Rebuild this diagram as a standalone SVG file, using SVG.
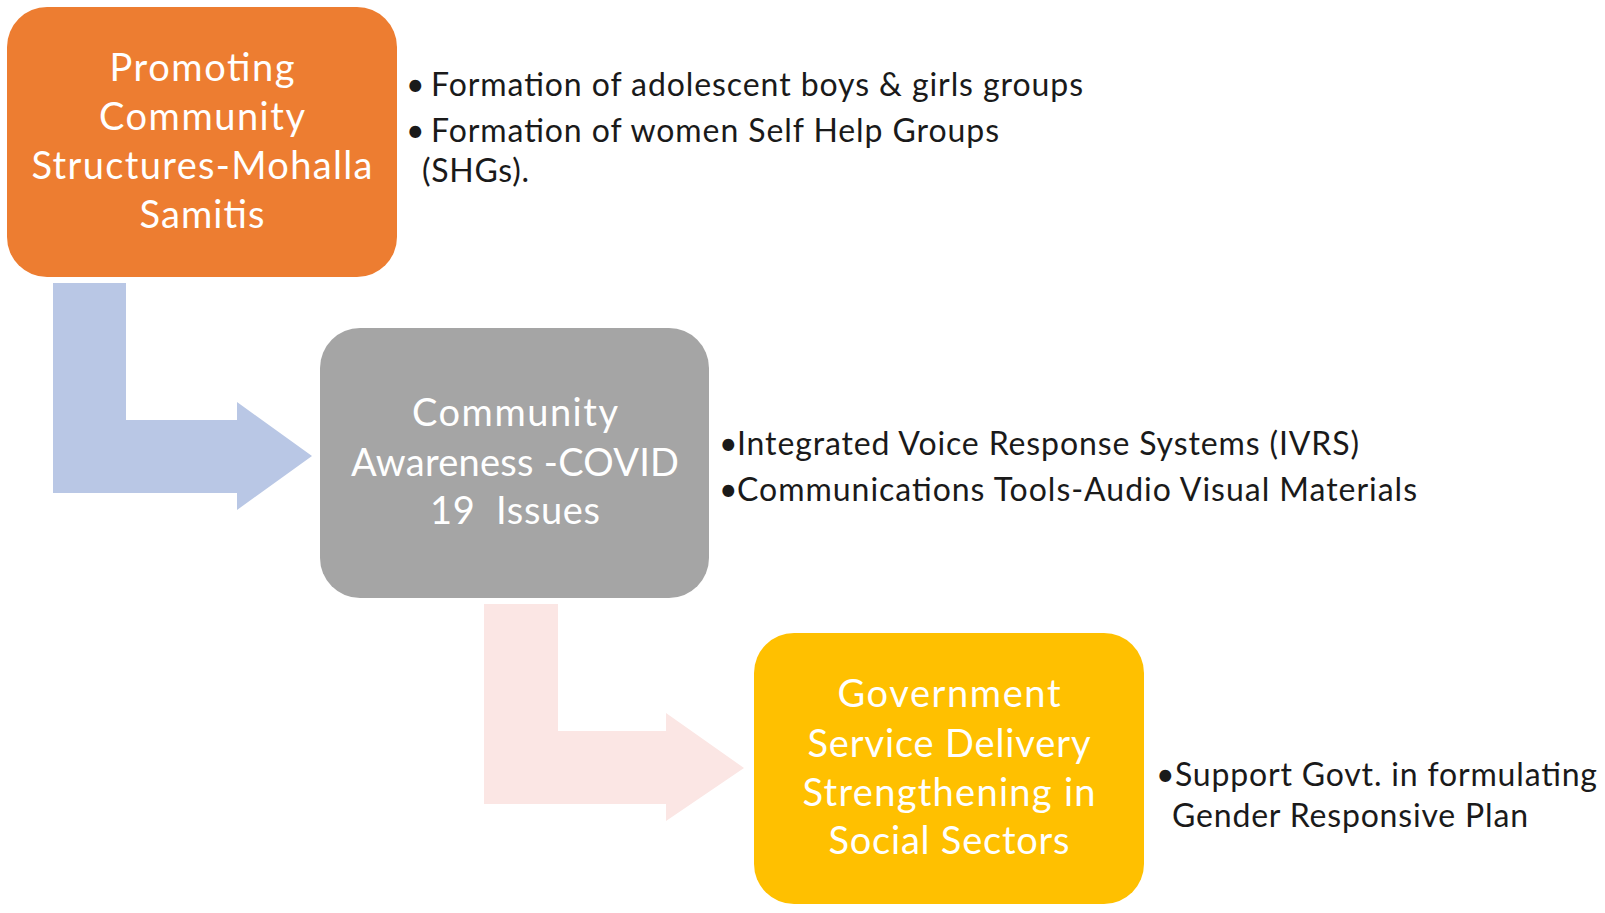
<svg xmlns="http://www.w3.org/2000/svg" width="1605" height="913" viewBox="0 0 1605 913">
<style>
.node-text{font-family:"Lato","Liberation Sans",sans-serif;font-size:38px;fill:#ffffff;text-anchor:middle}
.note{font-family:"Lato","Liberation Sans",sans-serif;font-size:32px;fill:#1a1a1a}
</style>
<rect width="1605" height="913" fill="#ffffff"/>
<g id="connectors">
<path d="M53,283 H126 V420 H237 V402 L312,456 L237,510 V493 H53 Z" fill="#B9C7E5"/>
<path d="M484,604 H558 V731 H666 V713 L744,768 L666,821 V804 H484 Z" fill="#FBE6E4"/>
</g>
<g id="node-promoting">
<rect x="7" y="7" width="390" height="270" rx="40" fill="#ED7D31"/>
<text class="node-text" x="202" y="81" textLength="185">Promoting</text>
<text class="node-text" x="202" y="130" textLength="206">Community</text>
<text class="node-text" x="202" y="179" textLength="341">Structures-Mohalla</text>
<text class="node-text" x="202" y="228" textLength="125">Samitis</text>
</g>
<g id="node-awareness">
<rect x="320" y="328" width="389" height="270" rx="40" fill="#A5A5A5"/>
<text class="node-text" x="515" y="426" textLength="206">Community</text>
<text class="node-text" x="515" y="476" textLength="328">Awareness -COVID</text>
<text class="node-text" x="515" y="524" textLength="170" xml:space="preserve">19  Issues</text>
</g>
<g id="node-government">
<rect x="754" y="633" width="390" height="271" rx="40" fill="#FFC000"/>
<text class="node-text" x="949" y="707" textLength="223">Government</text>
<text class="node-text" x="949" y="757" textLength="283">Service Delivery</text>
<text class="node-text" x="949" y="806" textLength="293">Strengthening in</text>
<text class="node-text" x="949" y="854" textLength="241">Social Sectors</text>
</g>
<g id="notes-promoting">
<text class="note" x="406" y="96">•</text>
<text class="note" x="431" y="96" textLength="652">Formation of adolescent boys &amp; girls groups</text>
<text class="note" x="406" y="142">•</text>
<text class="note" x="431" y="142" textLength="568">Formation of women Self Help Groups</text>
<text class="note" x="422" y="182" textLength="107">(SHGs).</text>
</g>
<g id="notes-awareness">
<text class="note" x="719" y="455">•</text>
<text class="note" x="737" y="455" textLength="622">Integrated Voice Response Systems (IVRS)</text>
<text class="note" x="719" y="501">•</text>
<text class="note" x="737" y="501" textLength="680">Communications Tools-Audio Visual Materials</text>
</g>
<g id="notes-government">
<text class="note" x="1156" y="786">•</text>
<text class="note" x="1175" y="786" textLength="422">Support Govt. in formulating</text>
<text class="note" x="1172" y="827" textLength="356">Gender Responsive Plan</text>
</g>
</svg>
